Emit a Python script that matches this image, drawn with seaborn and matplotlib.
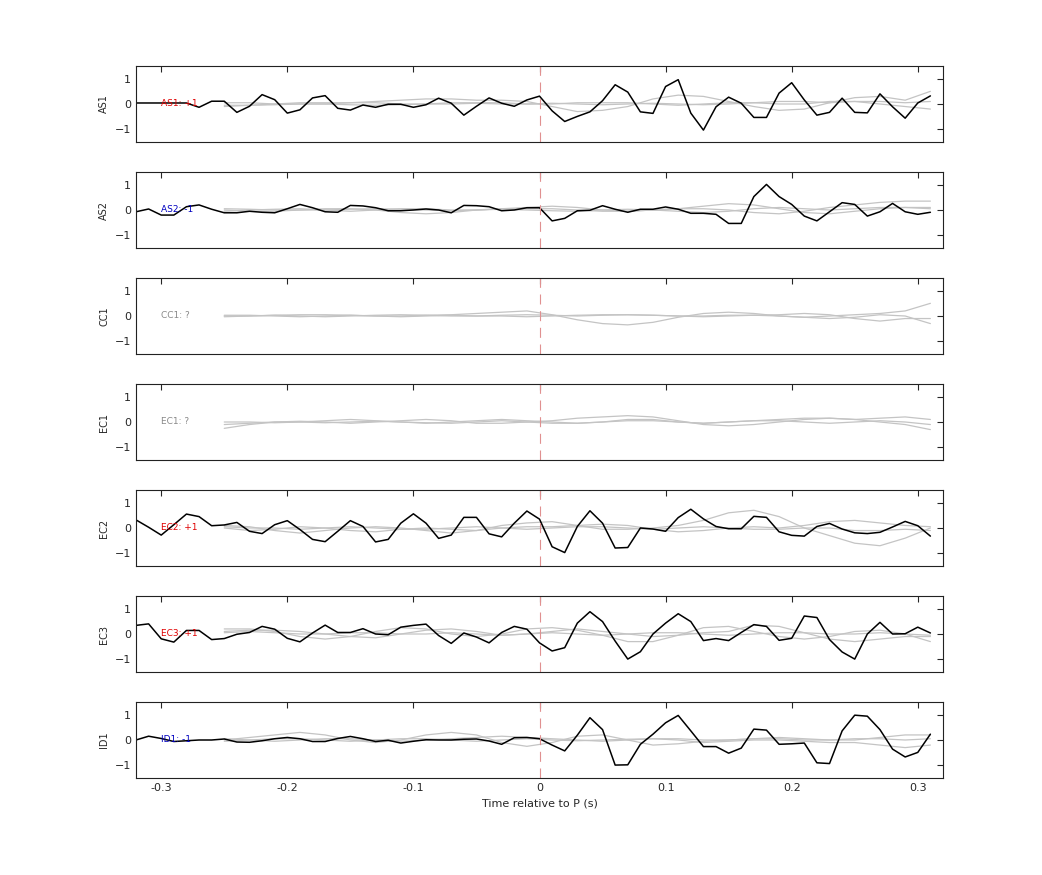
import numpy as np
import pandas as pd
import matplotlib
matplotlib.use("Agg")
import matplotlib.pyplot as plt
import seaborn as sns

stations = ["AS1", "AS2", "CC1", "EC1", "EC2", "EC3", "ID1"]
labels = ["AS1: +1", "AS2: -1", "CC1: ?", "EC1: ?", "EC2: +1", "EC3: +1", "ID1: -1"]
label_colors = ["#e00000", "#0000c0", "#888888", "#888888", "#e00000", "#e00000", "#0000c0"]

t_black = np.round(np.arange(-0.32, 0.315, 0.01), 2)
t_gray = np.round(np.arange(-0.25, 0.315, 0.02), 2)

black_AS1 = [0.04,0.04,0.04,0.04,0.04,-0.13,0.11,0.11,-0.33,-0.09,0.37,0.17,-0.36,-0.23,0.24,0.33,-0.17,-0.24,-0.04,-0.13,-0.01,-0.01,-0.13,-0.03,0.23,0.03,-0.44,-0.09,0.24,0.03,-0.09,0.16,0.31,-0.27,-0.69,-0.49,-0.31,0.13,0.76,0.47,-0.31,-0.37,0.69,0.96,-0.36,-1.03,-0.11,0.27,0.03,-0.53,-0.53,0.43,0.84,0.16,-0.44,-0.33,0.23,-0.33,-0.35,0.40,-0.11,-0.56,0.04,0.32]
black_AS2 = [-0.07,0.04,-0.2,-0.2,0.13,0.2,0.03,-0.11,-0.11,-0.05,-0.09,-0.11,0.05,0.22,0.09,-0.07,-0.09,0.18,0.16,0.09,-0.03,-0.03,0,0.04,0,-0.11,0.18,0.17,0.13,-0.03,0,0.09,0.09,-0.43,-0.33,-0.03,-0.01,0.17,0.03,-0.09,0.03,0.03,0.12,0.03,-0.13,-0.13,-0.17,-0.53,-0.53,0.53,1.01,0.53,0.22,-0.24,-0.43,-0.07,0.29,0.22,-0.24,-0.07,0.26,-0.07,-0.17,-0.09]
black_EC2 = [0.32,0.03,-0.28,0.13,0.55,0.45,0.09,0.12,0.22,-0.13,-0.22,0.13,0.29,-0.06,-0.45,-0.54,-0.13,0.29,0.06,-0.55,-0.45,0.19,0.56,0.19,-0.41,-0.28,0.42,0.42,-0.23,-0.35,0.19,0.67,0.35,-0.74,-0.97,0.06,0.68,0.19,-0.79,-0.77,0,-0.04,-0.13,0.41,0.74,0.36,0.06,-0.03,-0.03,0.46,0.42,-0.15,-0.29,-0.32,0.06,0.18,-0.04,-0.19,-0.22,-0.17,0.04,0.26,0.09,-0.32]
black_EC3 = [0.34,0.4,-0.19,-0.32,0.14,0.14,-0.22,-0.18,-0.01,0.06,0.3,0.19,-0.17,-0.31,0.04,0.35,0.06,0.06,0.21,0,-0.03,0.27,0.34,0.39,-0.06,-0.37,0.04,-0.12,-0.35,0.06,0.3,0.19,-0.35,-0.67,-0.54,0.43,0.88,0.49,-0.28,-0.99,-0.7,0,0.43,0.8,0.49,-0.26,-0.18,-0.26,0.06,0.37,0.3,-0.25,-0.17,0.71,0.65,-0.22,-0.71,-0.99,0,0.46,0,0.01,0.27,0.04]
black_ID1 = [0,0.15,0.06,-0.06,-0.03,0,0,0.04,-0.08,-0.09,-0.03,0.05,0.1,0.05,-0.06,-0.06,0.06,0.14,0.05,-0.06,-0.01,-0.12,-0.05,0.01,0,0,0.03,0.04,-0.04,-0.17,0.09,0.1,0.05,-0.2,-0.43,0.19,0.88,0.41,-0.99,-0.98,-0.17,0.23,0.68,0.97,0.36,-0.26,-0.26,-0.52,-0.32,0.43,0.39,-0.17,-0.15,-0.12,-0.9,-0.93,0.36,0.98,0.94,0.41,-0.36,-0.67,-0.49,0.23]

gray_AS1 = [
    [-0.1,-0.05,0,0.05,0.05,0.05,0.1,0.15,0.2,0.2,0.15,0.15,0.1,-0.1,-0.3,-0.25,-0.1,0.2,0.35,0.3,0.1,-0.1,-0.25,-0.2,0.05,0.25,0.3,0.15,0.5],
    [0.05,0.05,0,0,0,0.05,0.05,0,0,0.05,0.05,0.05,0,0,0.05,0.05,0.05,0,-0.05,0,0.05,0.05,0,0,0.1,0.1,0,-0.1,-0.2],
    [-0.05,-0.05,-0.03,0,0,-0.03,-0.05,-0.03,0,0,0.03,0,0,0.03,0,-0.03,0,0.03,0,-0.03,0,0.05,0.1,0.1,0.05,0.1,0.1,0.05,0.1],
]
gray_AS2 = [
    [0,-0.05,-0.05,0,0.05,0.05,0,-0.1,-0.15,-0.1,0,0.05,0.05,0.05,0,-0.05,-0.05,0,0.05,0.05,0,-0.1,-0.15,-0.05,0.1,0.2,0.3,0.35,0.35],
    [-0.05,0,0.03,0.05,0,-0.05,0,0.05,0.05,0,0,0.05,0.1,0.15,0.1,0,-0.05,0,0.05,0.15,0.25,0.2,0.05,-0.1,-0.15,-0.05,0.05,0.1,0.1],
    [0.05,0.03,0,0,0,0.03,0.05,0.03,0,-0.03,0,0.03,0,-0.03,-0.05,0,0.03,0,-0.05,-0.1,-0.05,0.05,0.1,0.05,0,0.05,0.1,0.1,0.05],
]
gray_CC1 = [
    [0,0,0.03,0.05,0.05,0.03,0,0,0.03,0.05,0.1,0.15,0.2,0.05,-0.15,-0.3,-0.35,-0.25,-0.05,0.1,0.15,0.1,0,-0.05,0,0.05,0.1,0.2,0.5],
    [-0.03,0,0.03,0,-0.03,0,0.03,0.05,0.03,0,0,0.03,0.05,0.03,0,0.03,0.05,0.03,0,0,0.03,0.03,0,-0.05,-0.1,-0.05,0.05,0,-0.3],
    [0.03,0.03,0,-0.03,0,0.03,0,-0.03,0,0.03,0,0,-0.03,0,0.03,0.05,0.05,0.03,0,-0.03,0,0.03,0.05,0.1,0.05,-0.1,-0.2,-0.1,-0.1],
]
gray_EC1 = [
    [-0.25,-0.1,0,0.03,0,-0.05,0,0.05,0.1,0.05,-0.05,-0.05,0,0.05,0.15,0.2,0.25,0.2,0.05,-0.1,-0.15,-0.1,0,0.1,0.15,0.1,0,-0.1,-0.3],
    [0,0,-0.03,0,0.05,0.1,0.05,0,-0.05,0,0.05,0.1,0.05,0,-0.05,0,0.1,0.1,0,-0.05,0,0.05,0.1,0.15,0.15,0.1,0.15,0.2,0.1],
    [-0.1,-0.05,0,0,-0.03,0,0.03,0,-0.03,-0.05,0,0.05,0,-0.05,-0.05,0,0.05,0.05,0,-0.05,0,0.05,0.05,0,-0.05,0,0.05,0,-0.1],
]
gray_EC2 = [
    [0.1,0.05,-0.1,-0.2,-0.1,0,0.05,0,-0.1,-0.2,-0.1,0.1,0.2,0.25,0.1,-0.05,-0.05,0,0.1,0.3,0.6,0.7,0.45,0,-0.3,-0.6,-0.7,-0.4,0],
    [0,-0.1,-0.05,0.05,0,-0.1,-0.15,-0.05,0,-0.05,-0.1,0,0.05,0.05,0.1,0.15,0.1,-0.05,-0.15,-0.1,0,0.05,0,0.1,0.25,0.3,0.2,0.1,0.05],
    [0.05,0,0,-0.05,0,0.05,0,-0.05,-0.05,0,0.05,0,-0.05,0,0.05,0.05,0,-0.05,0,0.05,0,-0.05,-0.05,0,0,-0.1,-0.1,-0.05,-0.1],
]
gray_EC3 = [
    [0.2,0.2,0.1,-0.1,-0.2,-0.1,0.1,0.25,0.2,0,-0.1,0,0.2,0.25,0.15,-0.05,-0.3,-0.3,-0.05,0.25,0.3,0.1,-0.1,-0.2,-0.1,0.1,0.15,0,-0.3],
    [0.1,0.15,0.15,0.1,0,-0.1,-0.15,0,0.15,0.2,0.1,-0.05,0,0.1,0.2,0.1,0,-0.1,-0.05,0.05,0.1,0.35,0.3,0.05,-0.2,-0.3,-0.2,-0.1,-0.1],
    [0.05,0.1,0.05,0,0,0.05,0.05,0,0,0.05,0,-0.05,0,0.05,0,-0.05,0,0.05,0.05,0,-0.05,0,0.05,0.05,0,0,0.05,0,-0.05],
]
gray_ID1 = [
    [0,0.1,0.2,0.3,0.2,0,-0.1,0,0.2,0.3,0.2,-0.1,-0.25,-0.1,0.15,0.2,0,-0.2,-0.15,-0.05,0,0.05,0.1,0.05,0,0,0.1,0.2,0.2],
    [0.05,0,-0.05,0,0.05,0.05,0,-0.05,0,0.05,0.1,0.15,0.1,0.05,0,-0.05,0,0.05,0,-0.1,-0.05,0,0,-0.05,-0.1,-0.1,-0.2,-0.3,-0.2],
    [-0.05,0,0.05,0.05,0,-0.05,0,0.05,0.05,0,-0.05,0,0.05,0,-0.03,0,0.03,0.05,0.05,0,0,0.05,0.05,0,0,0.05,0.05,0,0.05],
]

black = {"AS1": black_AS1, "AS2": black_AS2, "EC2": black_EC2, "EC3": black_EC3, "ID1": black_ID1}
gray = {"AS1": gray_AS1, "AS2": gray_AS2, "CC1": gray_CC1, "EC1": gray_EC1,
        "EC2": gray_EC2, "EC3": gray_EC3, "ID1": gray_ID1}

sns.set_style("white")
plt.rcParams["font.family"] = ["DejaVu Sans"]
fig = plt.figure(figsize=(10.42, 8.75), dpi=100)
W, H = 1042, 875
left, right = 136 / W, 943 / W
tops = [66, 172, 278, 384, 490, 596, 702]
ph = 76

for i, st in enumerate(stations):
    ax = fig.add_axes([left, 1 - (tops[i] + ph) / H, right - left, ph / H])
    for j, g in enumerate(gray[st]):
        df = pd.DataFrame({"t": t_gray, "v": g})
        sns.lineplot(data=df, x="t", y="v", ax=ax, color="#c4c4c4", lw=0.9, estimator=None)
    if st in black:
        df = pd.DataFrame({"t": t_black, "v": black[st]})
        sns.lineplot(data=df, x="t", y="v", ax=ax, color="black", lw=1.1, estimator=None)
    ax.axvline(0, color="#e09090", lw=0.8, ls=(0, (9, 6)))
    ax.set_xlim(-0.32, 0.32)
    ax.set_ylim(-1.5, 1.5)
    ax.set_yticks([-1, 0, 1])
    ax.set_xticks([-0.3, -0.2, -0.1, 0, 0.1, 0.2, 0.3])
    ax.tick_params(direction="in", top=True, right=True, length=4, labelsize=8, width=0.8)
    ax.set_ylabel(st, fontsize=7)
    ax.set_xlabel("")
    for s in ax.spines.values():
        s.set_linewidth(0.8)
        s.set_color("#222222")
    ax.text(-0.30, 0, labels[i], color=label_colors[i], fontsize=6.5, va="center", ha="left")
    if i < len(stations) - 1:
        ax.set_xticklabels([])
    else:
        ax.set_xticklabels(["-0.3", "-0.2", "-0.1", "0", "0.1", "0.2", "0.3"])
        ax.set_xlabel("Time relative to P (s)", fontsize=8)

fig.savefig("out.png", dpi=100)
